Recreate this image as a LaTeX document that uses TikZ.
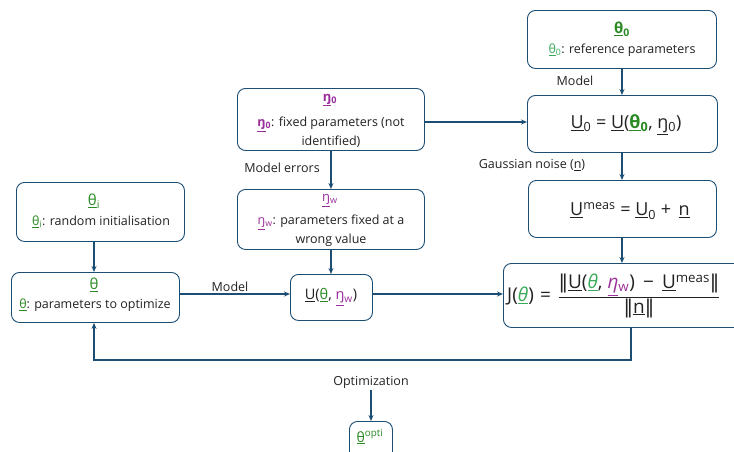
\documentclass[tikz,border=0pt]{standalone}
\usepackage{fontspec}
\setmainfont{Open Sans}
\newfontfamily\dvs{DejaVu Sans}
\usetikzlibrary{arrows.meta}
\definecolor{edge}{HTML}{1C4E74}
\definecolor{grn}{HTML}{2A8A22}
\definecolor{lgrn}{HTML}{3AAA5A}
\definecolor{prp}{HTML}{9A2E9A}
\definecolor{txt}{HTML}{222222}
\newcommand{\ul}[1]{\underline{#1}}
\newcommand{\nrm}{{\dvs ‖}}
\tikzset{
  box/.style={draw=edge, line width=0.9pt, rounded corners=8pt, fill=white, align=center, inner sep=0pt, text=txt},
  conn/.style={draw=edge, line width=1.1pt, -{Stealth[length=6pt,width=5pt]}},
  lbl/.style={text=txt, font=\fontsize{12.5}{14}\selectfont, inner sep=1pt},
  body/.style={text=txt, font=\fontsize{12.5}{19}\selectfont, align=center},
}
\begin{document}
\begin{tikzpicture}[x=1pt,y=-1pt]
\useasboundingbox (0,0) rectangle (734,451);
\node[box, minimum width=189pt, minimum height=58pt, anchor=north west] (t0) at (527,10) {};
\node[text=grn, font=\bfseries\fontsize{15}{17}\selectfont] (t0a) at (622,29) {\ul{θ}\textsubscript{0}};
\node[body] (t0b) at (622,50) {\textcolor{lgrn}{\ul{θ}\textsubscript{0}}: reference parameters};

\node[box, minimum width=190pt, minimum height=57pt, anchor=north west] (u0) at (527,95) {};
\node[text=txt, font=\fontsize{18}{20}\selectfont] (u0a) at (626,125) {\ul{U}\textsubscript{0} = \ul{U}(\textcolor{grn}{\bfseries\ul{θ}\textsubscript{0}}, \ul{ŋ}\textsubscript{0})};

\node[box, minimum width=188pt, minimum height=57pt, anchor=north west] (um) at (528,180) {};
\node[text=txt, font=\fontsize{18}{20}\selectfont] (uma) at (630,211) {\ul{U}\textsuperscript{meas} = \ul{U}\textsubscript{0} + \,\ul{n}};

\node[box, minimum width=245pt, minimum height=64pt, anchor=north west] (J) at (503,263) {};
\node[text=txt, font=\fontsize{19}{21}\selectfont, anchor=west, inner sep=0pt] (Ja) at (507,296) {J(\textcolor{lgrn}{\ul{\itshape θ}})\,\,=\,\,$\displaystyle\frac{\mbox{\nrm\ul{U}(\textcolor{lgrn}{\ul{\itshape θ}}, \textcolor{prp}{\ul{\itshape η}\textsubscript{w}})\, − \,\ul{U}\textsuperscript{meas}\nrm}}{\mbox{\nrm\ul{n}\nrm}}$};

\node[box, minimum width=187pt, minimum height=62pt, anchor=north west] (e0) at (237,88) {};
\node[text=prp, font=\bfseries\fontsize{13}{15}\selectfont] (e0a) at (330,100) {\ul{ŋ}\textsubscript{0}};
\node[body] (e0b) at (331,132) {\textcolor{prp}{\bfseries\ul{ŋ}\textsubscript{0}}: fixed parameters (not\\identified)};

\node[box, minimum width=187pt, minimum height=60pt, anchor=north west] (ew) at (237,189) {};
\node[text=prp, font=\fontsize{13}{15}\selectfont] (ewa) at (330,201) {\ul{ŋ}\textsubscript{w}};
\node[body] (ewb) at (331,231) {\textcolor{prp}{\ul{ŋ}\textsubscript{w}}: parameters fixed at a\\wrong value};

\node[box, minimum width=168pt, minimum height=59pt, anchor=north west] (ti) at (16,182) {};
\node[text=grn, font=\fontsize{15}{17}\selectfont] (tia) at (94,201) {\ul{θ}\textsubscript{i}};
\node[body] (tib) at (101,222) {\textcolor{grn}{\ul{θ}\textsubscript{i}}: random initialisation};

\node[box, minimum width=168pt, minimum height=50pt, anchor=north west] (th) at (11,272) {};
\node[text=grn, font=\fontsize{15}{17}\selectfont] (tha) at (94,285) {\ul{θ}};
\node[body] (thb) at (95,305) {\textcolor{grn}{\ul{θ}}: parameters to optimize};

\node[box, minimum width=82pt, minimum height=46pt, anchor=north west] (uw) at (290,274) {};
\node[text=txt, font=\fontsize{14.5}{16}\selectfont] (uwa) at (331,297) {\ul{U}(\textcolor{grn}{\ul{θ}}, \textcolor{prp}{\ul{ŋ}\textsubscript{w}})};

\node[box, minimum width=43pt, minimum height=40pt, anchor=north west] (to) at (349,421) {};
\node[text=grn, font=\fontsize{14}{16}\selectfont] (toa) at (370,437) {\ul{θ}\textsuperscript{opti}};

\node[lbl] (lm1) at (575,81) {Model};
\node[lbl] (lgn) at (532,165) {Gaussian noise (\ul{n})};
\node[lbl] (lme) at (282,168) {Model errors};
\node[lbl] (lm2) at (230,287) {Model};
\node[lbl, inner sep=2pt] (lop) at (371,382) {Optimization};

\coordinate (c1) at (631,360);
\coordinate (c2) at (94,360);
\coordinate (cx) at (622,0);
\coordinate (cy) at (0,294);
\draw[conn] (t0.south -| cx) -- (u0.north -| cx);
\draw[conn] (u0.south -| cx) -- (um.north -| cx);
\draw[conn] (um.south -| cx) -- (J.north -| cx);
\draw[conn] (e0.east |- 0,122) -- (u0.west |- 0,122);
\draw[conn] (e0.south) -- (ew.north);
\draw[conn] (ew.south) -- (uw.north -| ew.south);
\draw[conn] (ti.south -| c2) -- (th.north -| c2);
\draw[conn] (th.east |- cy) -- (uw.west |- cy);
\draw[conn] (uw.east |- cy) -- (J.west |- cy);
\draw[conn] (J.south -| c1) -- (c1) -- (c2) -- (th.south -| c2);
\draw[conn] (lop.south) -- (to.north -| lop.south);
\end{tikzpicture}
\end{document}
